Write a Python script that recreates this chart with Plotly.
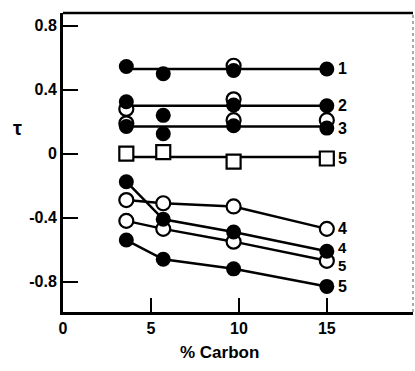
import plotly.graph_objects as go

# Carbon content (%) at which tau was measured
carbon = [3.6, 5.7, 9.7, 15.0]

# Upper group: filled and open circles around flat mean lines
s1_filled = [0.545, 0.50, 0.52, 0.53]
s1_open = [None, None, 0.55, None]
s1_level = 0.53

s2_filled = [0.325, 0.24, 0.305, 0.30]
s2_open = [0.28, None, 0.34, None]
s2_level = 0.30

s3_filled = [0.17, 0.125, 0.175, 0.16]
s3_open = [0.19, None, 0.21, 0.21]
s3_level = 0.17

s5_square = [0.0, 0.01, -0.05, -0.03]
s5_level = -0.02

# Lower group: connected series
s4_open = [-0.29, -0.31, -0.33, -0.47]
s4_filled = [-0.175, -0.41, -0.49, -0.61]
s5_open = [-0.42, -0.47, -0.55, -0.67]
s5_filled = [-0.54, -0.66, -0.72, -0.83]

x_ticks = [0, 5, 10, 15]
y_ticks = [0.8, 0.4, 0, -0.4, -0.8]
y_tick_text = ["0.8", "0.4", "0", "-0.4", "-0.8"]

FONT = "Liberation Sans"
fig = go.Figure()


def flat_line(level):
    fig.add_trace(go.Scatter(x=[carbon[0], carbon[-1]], y=[level, level], mode="lines",
                             line=dict(color="black", width=2.5), hoverinfo="skip"))


def open_pts(vals, symbol="circle"):
    fig.add_trace(go.Scatter(x=carbon, y=vals, mode="markers",
                             marker=dict(symbol=symbol, size=14, color="white",
                                         line=dict(color="black", width=2.2))))


def filled_pts(vals):
    fig.add_trace(go.Scatter(x=carbon, y=vals, mode="markers",
                             marker=dict(symbol="circle", size=15, color="black",
                                         line=dict(color="black", width=0))))


for lvl in (s1_level, s2_level, s3_level, s5_level):
    flat_line(lvl)
for op, fi in ((s1_open, s1_filled), (s2_open, s2_filled), (s3_open, s3_filled)):
    open_pts(op)
    filled_pts(fi)
open_pts(s5_square, symbol="square")

# connected lower series
for vals in (s4_filled, s5_filled, s4_open, s5_open):
    fig.add_trace(go.Scatter(x=carbon, y=vals, mode="lines",
                             line=dict(color="black", width=2.5), hoverinfo="skip"))
open_pts(s4_open)
open_pts(s5_open)
filled_pts(s4_filled)
filled_pts(s5_filled)

# series numbers at the right end (the close pair is nudged apart)
labels = [("1", s1_level, 0, 16), ("2", s2_level, 0, 16), ("3", s3_filled[-1], 0, 16),
          ("5", s5_square[-1], 0, 16), ("4", s4_open[-1], 0, 16),
          ("4", s4_filled[-1], 4, 15), ("5", s5_open[-1], -5, 15),
          ("5", s5_filled[-1], 0, 16)]
for txt, yv, dy, fs in labels:
    fig.add_annotation(x=carbon[-1], y=yv, text=txt, showarrow=False, xanchor="left",
                       xshift=10, yshift=dy, borderpad=0,
                       font=dict(family=FONT, size=fs, color="black", weight="bold"))

fig.add_annotation(x=8.9, y=-0.175, yref="paper", text="% Carbon", showarrow=False,
                   font=dict(family=FONT, size=17, color="black", weight="bold"))
fig.add_annotation(x=-0.15, xref="paper", y=0.16, text="τ", showarrow=False,
                   font=dict(family=FONT, size=20, color="black", weight="bold"))

# frame: top and right edges
fig.add_shape(type="line", xref="paper", yref="paper", x0=0, x1=1, y0=1, y1=1,
              line=dict(color="black", width=2.5))
fig.add_shape(type="line", xref="paper", yref="paper", x0=1, x1=1, y0=0, y1=1,
              line=dict(color="#555", width=1, dash="dot"))

fig.update_layout(
    width=415, height=371, showlegend=False,
    margin=dict(l=63, r=2, t=13, b=59),
    paper_bgcolor="white", plot_bgcolor="white",
    xaxis=dict(range=[0, 19.9], tickvals=x_ticks, ticks="inside", ticklen=14,
               tickwidth=2, tickcolor="black", showline=True, linecolor="black",
               linewidth=3, showgrid=False, zeroline=False,
               tickfont=dict(family=FONT, size=16, color="black", weight="bold")),
    yaxis=dict(range=[-0.99, 0.88], tickvals=y_ticks, ticktext=y_tick_text,
               ticks="inside", ticklen=15, tickwidth=2, tickcolor="black",
               showline=True, linecolor="black", linewidth=3, showgrid=False,
               zeroline=False,
               tickfont=dict(family=FONT, size=16, color="black", weight="bold")),
)

fig.write_html("out.html")
